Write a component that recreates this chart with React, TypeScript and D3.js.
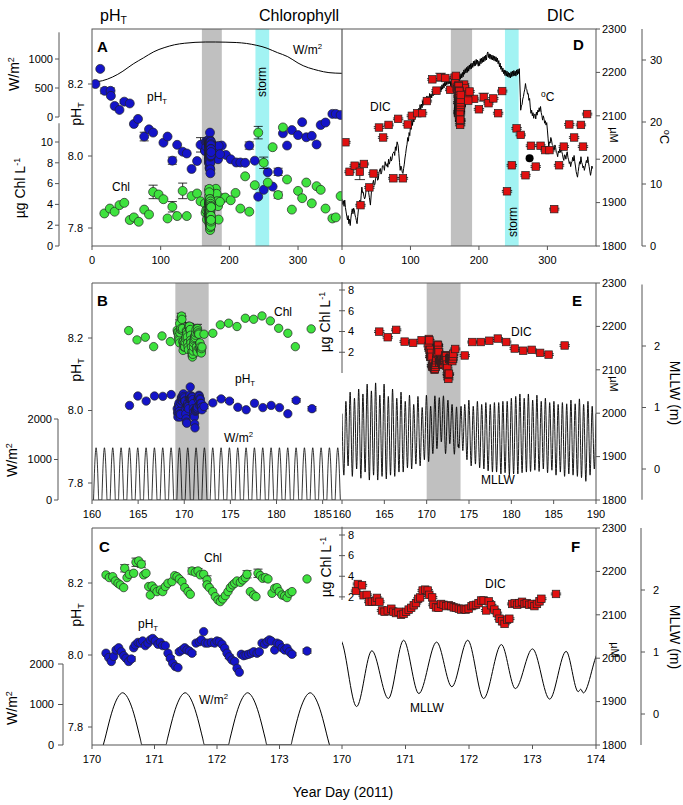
import React from 'react';
import * as d3 from 'd3';

type Pt = [number, number, number?];

const FONT = "'Liberation Sans', Arial, Helvetica, sans-serif";

// ---------------- Panel A / D : annual record ----------------
const lightAnnualDays = [0, 15, 30, 45, 60, 75, 90, 105, 120, 135, 150, 165, 180, 195, 210, 225, 240, 255, 270, 285, 300, 315, 330, 345, 364];
const lightAnnualW = [598, 625, 690, 790, 915, 1020, 1125, 1195, 1245, 1272, 1287, 1293, 1293, 1290, 1284, 1268, 1235, 1185, 1110, 1040, 930, 850, 800, 765, 753];

const phA: Pt[] = [
  [5, 8.2], [12, 8.242], [18.5, 8.181, 0.008], [27, 8.181, 0.008], [27.5, 8.167], [33, 8.139], [40, 8.128],
  [47, 8.151, 0.005], [55, 8.146], [61, 8.089], [67, 8.103], [76, 8.054, 0.012], [83, 8.074], [89, 8.065],
  [104, 8.037], [110, 8.054], [117, 7.987, 0.01], [124, 8.031], [132, 8.012], [138, 8.007], [145, 7.964],
  [153, 7.986], [158, 8.031, 0.02], [189, 8.029], [195, 8.003], [202, 7.991], [210, 7.982], [216, 7.982],
  [223, 7.981], [229, 8.029, 0.01], [237, 7.987], [242, 7.887], [250, 7.906], [256, 7.955], [263, 7.915],
  [271, 7.956, 0.01], [278, 8.063], [284, 8.029], [291, 8.072], [300, 8.058], [306, 8.094], [312, 8.052],
  [320, 8.056], [327, 8.032], [333, 8.086], [340, 8.093], [350, 8.117], [355, 8.117], [362, 8.114],
];

const chlA: Pt[] = [
  [18, 3.13], [26, 3.6], [33, 3.3], [40, 3.93], [47, 4.15], [55, 2.5], [61, 2.75], [68, 2.33], [76, 3.5],
  [83, 3.03], [89, 5.2, 0.65], [97, 4.95], [104, 4.5], [110, 2.65], [117, 3.77, 0.5], [124, 2.88],
  [132, 5.3, 0.75], [138, 2.88], [145, 4.8], [153, 5.05], [158, 4.3], [190, 4.6], [194, 4.66], [202, 4.4],
  [209, 5.1], [216, 3.6], [223, 6.7], [229, 3.3], [237, 5.85], [242, 10.9, 0.6], [250, 8.0, 0.55],
  [256, 6.1], [263, 9.5], [271, 4.9, 0.3], [278, 11.4], [284, 6.4], [291, 3.5], [300, 5.3], [306, 4.6],
  [312, 6.1], [320, 4.1], [327, 5.75], [333, 5.4], [340, 3.6], [350, 2.65], [355, 2.75], [362, 4.8],
];

const dicD: Pt[] = [
  [5, 2039], [11, 1971], [18.5, 1985], [26, 1971, 18], [32, 1989], [27, 1894], [40, 1935], [46, 1967],
  [54, 2073], [60, 2050], [68, 2079], [75, 1956], [82, 2093], [89, 1956], [96, 2080], [102, 2100],
  [110, 2106], [117, 2106], [124, 2134], [132, 2184], [138, 2158], [144, 2189, 9], [151, 2187], [158, 2160],
  [193, 2139], [200, 2115], [207, 2143, 9], [214, 2129], [221, 2140], [228, 2106], [234, 2157], [241, 1926],
  [248, 1986], [255, 2071], [261, 2056], [268, 1963], [276, 2031], [283, 1983], [290, 2031], [297, 2021],
  [303, 2021], [310, 1885], [317, 1986], [324, 2029], [332, 2080], [339, 2050], [349, 2079], [352, 2029],
  [358, 2104],
];
const dicBlack: Pt[] = [[274, 2002]];

const tempD: Pt[] = [
  [0, 7.6], [1, 6.7], [2, 7.3], [3, 6.4], [4, 7.4], [5, 6.2], [6, 5.5], [7, 4.8], [8, 4.2], [9, 4.9], [10, 3.6],
  [11, 4.3], [12, 3.3], [13, 4.5], [14, 5.4], [15, 6.0], [16, 5.2], [17, 6.1], [18, 5.8], [19, 5.0], [20, 4.6],
  [21, 4.1], [22, 3.6], [23, 4.8], [24, 5.9], [25, 6.5], [26, 7.4], [27, 6.6], [28, 8.2], [29, 9.5], [30, 8.6],
  [31, 8.7], [32, 8.0], [33, 7.6], [34, 7.9], [35, 8.8], [36, 9.0], [37.5, 9.8], [39, 8.6], [40, 7.8], [41.5, 6.6],
  [43, 8.8], [44, 9.6], [45, 10.1], [46, 10.6], [47, 9.8], [48, 9.9], [49, 10.9], [50, 11.2], [51, 11.4],
  [52, 10.6], [53, 10.8], [54, 11.8], [55, 12.3], [56, 12.5], [57, 11.6], [58, 11.9], [59, 12.9], [60, 13.0],
  [61, 12.8], [62, 12.2], [63, 13.6], [64, 13.0], [65, 12.9], [66, 13.3], [67, 12.7], [68, 14.0], [69, 13.2],
  [70, 13.6], [71, 14.4], [72, 13.7], [73, 14.0], [74, 14.9], [75, 15.0], [76, 15.2], [77, 14.6], [78, 16.0],
  [79, 15.4], [80.5, 16.8], [82, 16.2], [83, 14.9], [84, 13.5], [85, 12.2], [86, 12.9], [87, 12.6], [88, 11.9],
  [89, 11.7], [90, 12.5], [91, 13.2], [92, 14.2], [93, 14.9], [94, 15.8],
  [95, 16.4], [96, 17.5], [97, 16.9], [98, 18.3], [99, 17.8], [100, 19.4], [101, 18.8], [102, 20.3], [103, 19.5],
  [104, 20.6], [105, 20.0], [106, 21.3], [107, 20.7], [108, 21.6], [109, 20.9], [110, 22.0], [111, 21.3],
  [112, 22.2], [113, 21.6], [114, 22.8], [115, 22.0], [116, 22.9], [117, 22.3], [118, 23.4], [119, 22.7],
  [120, 23.6], [121, 22.9], [122, 23.9], [123, 23.2], [124, 24.2], [125, 23.4], [126, 24.1], [127, 23.5],
  [128, 24.6], [129, 23.8], [130, 24.5], [131, 23.9], [132, 24.8], [133, 24.2], [134, 25.1], [135, 24.4],
  [136, 25.0], [137, 24.5], [138, 25.5], [139, 24.8], [140, 25.4], [141, 24.5], [142, 25.6], [143, 25.0],
  [144, 25.7], [145, 25.1], [146, 26.0], [147, 25.3], [148, 26.2], [149, 25.5], [150, 26.4], [151, 25.8],
  [152, 26.7], [153, 26.0], [154, 26.8], [155, 26.1], [156, 26.9], [157, 26.2], [158, 26.6], [159, 25.7],
  [160, 26.3], [161, 25.6], [162, 26.5], [163, 25.8], [164, 26.6], [165, 25.9], [166, 26.8], [167, 26.1],
  [168, 27.0], [169, 26.3], [170, 27.2], [171, 26.5], [172, 27.5], [173, 26.9], [174, 27.8], [175, 27.1],
  [176, 28.0], [177, 27.3], [178, 28.4], [179, 27.7], [180, 28.6], [181, 27.9], [182, 28.8], [183, 28.0],
  [184, 29.0], [185, 28.2], [186, 29.2], [187, 28.5], [188, 29.4], [189, 28.6], [190, 29.5], [191, 28.8],
  [192, 29.8], [193, 29.0], [194, 29.9], [195, 29.1], [196, 30.1], [197, 29.3], [198, 30.0], [199, 29.0],
  [200, 29.8], [201, 29.1], [202, 30.2], [203, 29.4], [204, 30.3], [205, 29.6], [206, 30.5], [207, 29.7],
  [208, 30.6], [209, 29.9], [210, 30.8], [211, 30.0], [212, 31.0], [213, 31.3], [214, 30.4], [215, 31.0],
  [216, 30.2], [217, 30.9], [218, 30.1], [219, 30.8], [220, 30.0], [221, 30.7], [222, 29.9], [223, 30.6],
  [224, 29.8], [225, 30.5], [226, 29.7], [227, 30.3], [228, 29.4], [229, 29.9], [230, 28.9], [231, 29.5],
  [232, 28.5], [233, 29.0], [234, 28.1], [235, 28.7], [236, 27.8], [237, 28.4], [238, 27.5], [239, 28.3],
  [240, 27.4], [241, 28.2], [242, 27.3], [243, 28.0], [244, 27.2], [245, 27.9], [246, 27.1], [247, 28.1],
  [248, 27.3], [249, 28.2], [250, 27.4], [251, 28.3], [252, 27.5], [253, 28.2], [254, 27.4], [255, 28.4],
  [256, 27.6], [257, 28.5], [258, 27.8], [259, 28.6],
  [260.5, 24.0], [261, 21.9], [262, 22.6], [263, 22.8], [264, 23.7], [265, 24.1], [266, 24.8], [267, 25.3],
  [268, 26.2], [269, 25.4], [270, 25.2], [271, 24.5], [272, 24.6], [273, 23.5], [274, 23.8], [275, 22.4],
  [276, 21.4], [277, 21.9], [278, 21.0], [279, 21.5], [280, 20.6], [281, 21.2], [282, 21.3], [283, 20.5],
  [284, 21.6], [285, 21.1], [286, 21.9], [287, 21.6], [288, 22.3], [289, 21.7], [290, 22.5], [291, 21.5],
  [292, 21.0], [293, 20.3], [294, 21.0], [295, 20.6], [296, 19.8], [297, 20.2], [298, 19.5], [299, 19.9],
  [300, 18.7], [301, 17.4], [302, 16.0], [303, 16.8], [304, 16.6], [305, 17.5], [306, 17.1], [307, 16.4],
  [308, 16.2], [309, 15.6], [310, 15.5], [311, 16.3], [312, 15.9], [313, 15.1], [314, 14.9], [315, 14.4],
  [316, 15.3], [317, 15.0], [318, 15.7], [319, 15.1], [320, 16.0], [321, 15.2], [322, 14.8], [323, 14.2],
  [324, 13.8], [325, 14.7], [326, 14.6], [327, 14.0], [328, 14.9], [329, 15.2], [330, 14.3], [331, 13.9],
  [332, 13.3], [333, 13.6], [334, 12.8], [335, 13.4], [336, 13.6], [337, 14.3], [338, 13.7], [339, 14.6],
  [340, 13.6], [341, 12.9], [342, 12.0], [343, 11.5], [344, 11.1], [345, 12.0], [346, 12.8], [347, 13.6],
  [348, 13.2], [349, 14.4], [350, 13.5], [351, 13.2], [352, 12.6], [353, 12.9], [354, 12.2], [355, 12.7],
  [356, 13.3], [357, 13.8], [358, 13.4], [359, 14.4], [360, 13.5], [361, 12.8], [362, 12.1], [363, 11.4],
  [364, 12.0], [365, 12.9], [366, 12.5],
];

// ---------------- Panel B / E : month around the event ----------------
const phB: Pt[] = [
  [164.5, 8.014], [165.5, 8.04], [166.5, 8.026], [167.5, 8.04], [168.5, 8.039], [169.5, 8.044],
  [174.5, 8.021], [175.5, 8.032, 0.004], [176.5, 8.026, 0.004], [177.5, 8.009], [178.5, 8.002], [179.5, 8.02],
  [180.5, 8.008], [181.5, 8.014], [182.5, 8.008], [183.5, 7.991], [184.5, 8.028, 0.005], [186.4, 8.005, 0.006],
];
const chlB: Pt[] = [
  [164.4, 4.09], [165.4, 3.19], [166.4, 3.45], [167.4, 2.54], [168.4, 3.57], [169.4, 3.03], [174.5, 3.83],
  [175.4, 4.64], [176.4, 4.8], [177.4, 4.48], [178.4, 5.28], [179.4, 5.18], [180.4, 5.5], [181.4, 5.02],
  [182.4, 4.31], [183.5, 3.83], [184.4, 2.54], [186.3, 4.25],
];
const dicE: Pt[] = [
  [164.4, 2188], [165.4, 2175], [166.4, 2192], [167.4, 2165], [168.4, 2162], [169.4, 2168], [174.5, 2133],
  [175.4, 2164], [176.4, 2164], [177.4, 2167], [178.4, 2172], [179.4, 2164], [180.4, 2149], [181.4, 2144],
  [182.4, 2146], [183.4, 2139], [184.4, 2135], [186.3, 2156],
];

// daily irradiance: one hump per day (start day) with its hourly shape
const lightDays = [160, 161, 162, 163, 164, 165, 166, 167, 168, 169, 170, 171, 172, 173, 174, 175, 176, 177, 178, 179, 180, 181, 182, 183, 184, 185, 186, 187, 188, 189];
const lightDayFraction = [0.18, 0.21, 0.25, 0.29, 0.33, 0.37, 0.41, 0.45, 0.49, 0.53, 0.57, 0.61, 0.65, 0.69, 0.73, 0.77, 0.8];
const lightDayW = [0, 170, 420, 660, 870, 1040, 1170, 1255, 1290, 1255, 1170, 1040, 870, 660, 420, 170, 0];

// tide (m above MLLW): turning points
const tide: Pt[] = [
  [160.0, 0.9], [160.22, -0.1], [160.46, 1.1], [160.72, 0.05], [160.96, 1.25],
  [161.22, -0.12], [161.47, 1.15], [161.73, 0.0], [161.97, 1.3],
  [162.23, -0.15], [162.47, 1.22], [162.73, -0.05], [162.97, 1.38],
  [163.23, -0.18], [163.47, 1.27], [163.73, -0.1], [163.97, 1.4],
  [164.22, -0.18], [164.47, 1.2], [164.73, -0.12], [164.97, 1.38],
  [165.23, -0.16], [165.47, 1.18], [165.73, -0.1], [165.97, 1.3],
  [166.23, -0.12], [166.47, 1.15], [166.73, -0.05], [166.97, 1.25],
  [167.23, -0.05], [167.47, 1.1], [167.73, 0.02], [167.97, 1.2],
  [168.23, 0.0], [168.47, 1.05], [168.73, 0.08], [168.97, 1.18],
  [169.23, 0.05], [169.47, 1.0], [169.73, 0.15], [169.97, 1.2],
  [170.23, 0.12], [170.47, 1.02], [170.73, 0.25], [170.97, 1.19], [171.21, 0.33], [171.49, 1.16],
  [171.73, 0.44], [171.98, 1.19], [172.23, 0.25], [172.51, 1.12], [172.73, 0.41], [173.0, 1.05],
  [173.27, 0.24], [173.53, 1.01], [173.72, 0.36], [173.76, 0.4], [173.8, 0.34], [174.06, 1.02],
  [174.27, 0.3], [174.5, 1.05], [174.76, 0.15], [174.98, 1.12],
  [175.26, 0.05], [175.5, 1.02], [175.76, 0.08], [175.99, 1.1],
  [176.26, 0.02], [176.5, 1.05], [176.76, 0.0], [176.99, 1.08],
  [177.26, -0.03], [177.51, 1.05], [177.77, -0.05], [178.0, 1.08],
  [178.26, -0.05], [178.51, 1.08], [178.77, -0.08], [179.0, 1.1],
  [179.26, -0.06], [179.51, 1.1], [179.77, -0.1], [180.0, 1.15],
  [180.27, -0.08], [180.52, 1.18], [180.77, -0.08], [181.01, 1.22],
  [181.27, -0.06], [181.52, 1.15], [181.78, -0.05], [182.01, 1.22],
  [182.27, -0.04], [182.52, 1.12], [182.78, -0.02], [183.02, 1.2],
  [183.28, -0.04], [183.53, 1.1], [183.78, 0.0], [184.02, 1.15],
  [184.28, -0.06], [184.53, 1.08], [184.79, -0.02], [185.03, 1.1],
  [185.28, -0.1], [185.53, 1.05], [185.79, -0.05], [186.03, 1.08],
  [186.29, -0.12], [186.54, 1.06], [186.79, -0.08], [187.04, 1.12],
  [187.29, -0.1], [187.54, 1.06], [187.8, -0.12], [188.04, 1.14],
  [188.29, -0.14], [188.54, 1.05], [188.8, -0.2], [189.05, 1.1],
  [189.3, -0.1], [189.55, 1.02], [189.8, 0.0], [190.0, 0.9],
];

// ---------------- Panel C / F : high-frequency sampling ----------------
const phC: Pt[] = [
  [170.224, 8.005], [170.267, 7.993], [170.309, 7.982], [170.347, 7.996], [170.384, 8.014], [170.427, 8.02],
  [170.469, 8.009], [170.507, 7.998], [170.544, 7.991], [170.587, 7.982], [170.629, 7.989, 0.006], [170.667, 8.02],
  [170.693, 8.028], [170.736, 8.035], [170.773, 8.033], [170.811, 8.039], [170.853, 8.026], [170.896, 8.033],
  [170.933, 8.042], [170.971, 8.046], [171.013, 8.039], [171.056, 8.03], [171.093, 8.035], [171.131, 8.026],
  [171.173, 8.026], [171.216, 8.005], [171.253, 7.991, 0.005], [171.291, 7.977], [171.333, 7.968], [171.376, 7.965],
  [171.397, 8.009, 0.004], [171.44, 8.014], [171.483, 8.02], [171.52, 8.014], [171.557, 8.011], [171.6, 8.005, 0.004],
  [171.664, 8.033], [171.717, 8.037], [171.749, 8.042], [171.787, 8.065], [171.813, 8.033], [171.856, 8.033],
  [171.909, 8.035], [171.963, 8.033], [172.0, 8.039], [172.037, 8.037], [172.08, 8.03], [172.123, 8.019],
  [172.16, 8.005], [172.197, 7.995, 0.005], [172.24, 7.986], [172.283, 7.982], [172.32, 7.963], [172.357, 7.952],
  [172.389, 8.002], [172.427, 7.998], [172.464, 8.0], [172.507, 8.002], [172.549, 8.005], [172.587, 8.009],
  [172.64, 8.005], [172.677, 8.009], [172.72, 8.033], [172.763, 8.03], [172.8, 8.037], [172.837, 8.042],
  [172.869, 8.039], [172.923, 8.014], [172.96, 8.033], [172.997, 8.03], [173.04, 8.02], [173.083, 8.014],
  [173.12, 8.019], [173.157, 8.009], [173.2, 8.002, 0.004], [173.44, 8.011, 0.006],
];
const chlC: Pt[] = [
  [170.224, 4.13], [170.277, 3.87], [170.331, 3.96], [170.373, 3.54], [170.416, 3.32], [170.453, 3.16],
  [170.507, 2.9], [170.523, 4.77, 0.35], [170.56, 3.87], [170.597, 4.19], [170.667, 4.29], [170.704, 5.36, 0.4],
  [170.747, 5.49], [170.789, 5.17, 0.3], [170.827, 4.13], [170.864, 4.29], [170.907, 3.0], [170.933, 2.18],
  [170.96, 3.06], [171.003, 2.77], [171.04, 2.51], [171.093, 2.67], [171.131, 2.51], [171.173, 3.0],
  [171.216, 3.32], [171.28, 3.48], [171.323, 4.06], [171.36, 3.96], [171.397, 3.74], [171.44, 3.48],
  [171.483, 2.9], [171.536, 2.51], [171.573, 2.25], [171.6, 4.51, 0.3], [171.653, 4.39], [171.696, 4.51, 0.25],
  [171.733, 4.13], [171.787, 4.19], [171.84, 3.64, 0.4], [171.84, 3.16], [171.877, 2.9], [171.931, 2.51],
  [171.973, 2.02], [172.016, 1.7], [172.053, 1.54], [172.091, 1.8], [172.133, 2.12], [172.176, 2.51],
  [172.213, 2.9], [172.251, 3.16], [172.283, 3.32], [172.32, 3.54], [172.373, 3.41], [172.411, 3.64],
  [172.453, 3.87], [172.48, 4.19, 0.35], [172.533, 2.51], [172.587, 2.18], [172.624, 2.02], [172.656, 4.29, 0.4],
  [172.693, 4.06], [172.731, 3.8], [172.773, 3.87], [172.816, 3.74], [172.88, 2.35], [172.923, 2.83],
  [172.96, 2.9], [172.997, 2.51], [173.04, 2.18], [173.083, 2.09], [173.12, 1.93], [173.157, 2.35],
  [173.2, 2.51], [173.44, 3.74],
];
const dicF: Pt[] = [
  [170.22, 2155], [170.25, 2171], [170.315, 2168], [170.34, 2145], [170.39, 2146], [170.43, 2130], [170.47, 2130],
  [170.525, 2131], [170.55, 2139], [170.59, 2130], [170.63, 2110], [170.67, 2107], [170.72, 2110], [170.777, 2114],
  [170.81, 2107], [170.85, 2104], [170.89, 2107], [170.93, 2100], [170.97, 2102], [171.01, 2107], [171.05, 2112],
  [171.09, 2116], [171.13, 2122], [171.165, 2127], [171.2, 2137], [171.23, 2140], [171.27, 2156], [171.31, 2158],
  [171.35, 2156], [171.375, 2146], [171.42, 2140], [171.44, 2123], [171.48, 2117], [171.52, 2116], [171.56, 2125],
  [171.6, 2123], [171.64, 2120], [171.68, 2122], [171.72, 2120], [171.76, 2117], [171.795, 2116], [171.84, 2114],
  [171.88, 2112], [171.92, 2114], [171.95, 2112], [171.995, 2114], [172.04, 2120], [172.07, 2122], [172.11, 2123],
  [172.15, 2127], [172.19, 2133], [172.23, 2133], [172.27, 2110], [172.31, 2131], [172.35, 2122], [172.4, 2112],
  [172.44, 2104], [172.48, 2091], [172.52, 2085], [172.56, 2079], [172.6, 2089], [172.635, 2091], [172.68, 2125],
  [172.72, 2127], [172.76, 2123], [172.79, 2127], [172.835, 2130], [172.875, 2125], [172.91, 2127], [172.95, 2123],
  [172.99, 2125], [173.03, 2120], [173.07, 2125], [173.11, 2131], [173.14, 2137], [173.37, 2148],
];

// ---------------- ticks ----------------
const xTicksAD = [0, 100, 200, 300];
const xTicksB = [160, 165, 170, 175, 180, 185];
const xTicksE = [160, 165, 170, 175, 180, 185, 190];
const xTicksC = [170, 171, 172, 173];
const xTicksF = [170, 171, 172, 173, 174];
const phTicks = [7.8, 8.0, 8.2];
const wTicksA = [0, 500, 1000];
const wTicksBC = [0, 1000, 2000];
const chlTicksA = [0, 2, 4, 6, 8, 10];
const chlTicksBC = [2, 4, 6, 8];
const dicTicks = [1800, 1900, 2000, 2100, 2200, 2300];
const tempTicks = [0, 10, 20, 30];
const tideTicks = [0, 1, 2];

// ---------------- styling ----------------
const BLUE = '#1414c8';
const GREEN = '#3ee23e';
const RED = '#e01010';
const GREY = '#c0c0c0';
const CYAN = '#a2f3f3';
const FRAME = '#555';
const L = 92, M = 342, R = 596;

type Sc = d3.ScaleLinear<number, number>;

function ErrorBars({ data, x, y, cap = 4.5, def = 0 }: { data: Pt[]; x: Sc; y: Sc; cap?: number; def?: number }) {
  return (
    <g stroke="#000" strokeWidth={0.8}>
      {data.map((d, i) => {
        const e = d[2] ?? def;
        if (!e) return null;
        const cx = x(d[0]);
        const a = y(d[1] + e), b = y(d[1] - e);
        return (
          <g key={i}>
            <line x1={cx} x2={cx} y1={a} y2={b} />
            <line x1={cx - cap} x2={cx + cap} y1={a} y2={a} />
            <line x1={cx - cap} x2={cx + cap} y1={b} y2={b} />
          </g>
        );
      })}
    </g>
  );
}

function Dots({ data, x, y, r, fill }: { data: Pt[]; x: Sc; y: Sc; r: number; fill: string }) {
  return (
    <g>
      <ErrorBars data={data} x={x} y={y} />
      {data.map((d, i) => (
        <circle key={i} cx={x(d[0])} cy={y(d[1])} r={r} fill={fill} stroke="#222" strokeWidth={0.7} />
      ))}
    </g>
  );
}

function Squares({ data, x, y, s, fill, def }: { data: Pt[]; x: Sc; y: Sc; s: number; fill: string; def: number }) {
  return (
    <g>
      <ErrorBars data={data} x={x} y={y} cap={5.2} def={def} />
      {data.map((d, i) => (
        <rect key={i} x={x(d[0]) - s / 2} y={y(d[1]) - s / 2} width={s} height={s} fill={fill} stroke="#222" strokeWidth={0.7} />
      ))}
    </g>
  );
}

function LeftAxis({ scale, ticks, x, from, to, fmt, tick = 4, line = true, gap = 2 }: any) {
  return (
    <g>
      {line && <line x1={x} x2={x} y1={scale(from)} y2={scale(to)} stroke={FRAME} strokeWidth={1} />}
      {ticks.map((t: number) => (
        <g key={t}>
          <line x1={x - tick} x2={x} y1={scale(t)} y2={scale(t)} stroke={FRAME} strokeWidth={1} />
          <text x={x - tick - gap} y={scale(t)} dy="0.35em" textAnchor="end" fontSize={11}>{fmt(t)}</text>
        </g>
      ))}
    </g>
  );
}

function RightAxis({ scale, ticks, x, from, to, fmt, tick = 4, line = true, gap = 3, cross = false }: any) {
  return (
    <g>
      {line && <line x1={x} x2={x} y1={scale(from)} y2={scale(to)} stroke={FRAME} strokeWidth={1} />}
      {ticks.map((t: number) => (
        <g key={t}>
          <line x1={cross ? x - tick : x} x2={x + tick} y1={scale(t)} y2={scale(t)} stroke={FRAME} strokeWidth={1} />
          <text x={x + tick + gap} y={scale(t)} dy="0.35em" textAnchor="start" fontSize={11}>{fmt(t)}</text>
        </g>
      ))}
    </g>
  );
}

function BottomAxis({ scale, ticks, y }: any) {
  return (
    <g>
      {ticks.map((t: number) => (
        <g key={t}>
          <line x1={scale(t)} x2={scale(t)} y1={y} y2={y + 4} stroke={FRAME} strokeWidth={1} />
          <text x={scale(t)} y={y + 18} textAnchor="middle" fontSize={11}>{t}</text>
        </g>
      ))}
    </g>
  );
}

const Sup = ({ t }: { t: string }) => <tspan dy={-5} fontSize="0.65em">{t}</tspan>;
const Sub = ({ t }: { t: string }) => <tspan dy={3} fontSize="0.65em">{t}</tspan>;

function VText({ x, y, rot = -90, size = 14, children }: any) {
  return (
    <text transform={`translate(${x},${y}) rotate(${rot})`} textAnchor="middle" fontSize={size}>{children}</text>
  );
}

export default function App() {
  const fmtPh = d3.format('.1f');
  const fmtI = (v: number) => String(v);

  // Panel A / D scales
  const xA = d3.scaleLinear().domain([0, 364]).range([L, M]);
  const yPhA = d3.scaleLinear().domain([7.8, 8.2]).range([228, 84]);
  const yWA = d3.scaleLinear().domain([0, 1000]).range([117, 59]);
  const yChlA = d3.scaleLinear().domain([0, 10]).range([246, 142]);
  const xD = d3.scaleLinear().domain([0, 371]).range([M, R]);
  const yDicD = d3.scaleLinear().domain([1800, 2300]).range([246, 29]);
  const yTD = d3.scaleLinear().domain([0, 30]).range([246, 60]);

  // Panel B / E
  const xB = d3.scaleLinear().domain([160, 190]).range([L, M]);
  const xBt = d3.scaleLinear().domain([160, 187.1]).range([L, M]);
  const yPhB = d3.scaleLinear().domain([7.8, 8.2]).range([483, 338]);
  const yWB = d3.scaleLinear().domain([0, 2000]).range([500, 419]);
  const yChlB = d3.scaleLinear().domain([0, 8]).range([373, 290]);
  const xE = d3.scaleLinear().domain([160, 190]).range([M, R]);
  const yDicE = d3.scaleLinear().domain([1800, 2300]).range([500, 283]);
  const yTideE = d3.scaleLinear().domain([0, 2]).range([469, 346]);

  // Panel C / F
  const xC = d3.scaleLinear().domain([170, 174]).range([L, M]);
  const yPhC = d3.scaleLinear().domain([7.8, 8.2]).range([727, 583]);
  const yWC = d3.scaleLinear().domain([0, 2000]).range([745, 664]);
  const yChlC = d3.scaleLinear().domain([0, 8]).range([617.5, 535]);
  const xF = d3.scaleLinear().domain([170, 174]).range([M, R]);
  const yDicF = d3.scaleLinear().domain([1800, 2300]).range([745, 528]);
  const yTideF = d3.scaleLinear().domain([0, 2]).range([714, 590]);

  const annual: Pt[] = lightAnnualDays.map((d, i) => [d, lightAnnualW[i]]);
  const humps: Pt[] = lightDays.flatMap((d) => lightDayFraction.map((f, i) => [d + f, lightDayW[i]] as Pt));
  const humpsC = humps.filter((p) => p[0] >= 169.9 && p[0] <= 174.1);

  const lineOf = (x: Sc, y: Sc, curve: any = d3.curveLinear) =>
    d3.line<Pt>().x((d) => x(d[0])).y((d) => y(d[1])).curve(curve);

  const phAll = [...phA, ...phB, ...phC];
  const chlAll = [...chlA, ...chlB, ...chlC];
  const dicAll = [...dicD, ...dicE, ...dicF];

  const band = (x: Sc, a: number, b: number, top: number, h: number, color: string) => (
    <rect x={x(a)} y={top} width={x(b) - x(a)} height={h} fill={color} />
  );

  return (
    <svg width={683} height={805} style={{ position: 'absolute', left: 0, top: 0, background: '#fff' }} fontFamily={FONT}>
      <defs>
        <clipPath id="cA"><rect x={L} y={29} width={M - L} height={217} /></clipPath>
        <clipPath id="cD"><rect x={M} y={29} width={R - M} height={217} /></clipPath>
        <clipPath id="cB"><rect x={L} y={283} width={M - L} height={217} /></clipPath>
        <clipPath id="cE"><rect x={M} y={283} width={R - M} height={217} /></clipPath>
        <clipPath id="cC"><rect x={L} y={528} width={M - L} height={217} /></clipPath>
        <clipPath id="cF"><rect x={M} y={528} width={R - M} height={217} /></clipPath>
      </defs>
      <rect x={0} y={0} width={683} height={805} fill="#fff" />

      {/* column titles */}
      <text x={100} y={21} fontSize={16}>pH<Sub t="T" /></text>
      <text x={259} y={21} fontSize={16}>Chlorophyll</text>
      <text x={547} y={21} fontSize={16}>DIC</text>

      {/* ================= Panel A ================= */}
      <g clipPath="url(#cA)">
        {band(xA, 160, 189, 29, 217, GREY)}
        {band(xA, 238, 258, 29, 217, CYAN)}
        <path d={lineOf(xA, yWA, d3.curveNatural)(annual) || ''} fill="none" stroke="#000" strokeWidth={1} />
        <Dots data={phAll} x={xA} y={yPhA} r={4.5} fill={BLUE} />
        <Dots data={chlAll} x={xA} y={yChlA} r={4.5} fill={GREEN} />
      </g>
      <text x={97} y={52} fontSize={15} fontWeight="bold">A</text>
      <text x={293} y={54} fontSize={12}>W/m<Sup t="2" /></text>
      <text x={147} y={101} fontSize={12}>pH<Sub t="T" /></text>
      <text x={112} y={191} fontSize={12}>Chl</text>
      <VText x={266} y={82} size={12}>storm</VText>
      <LeftAxis scale={yPhA} ticks={phTicks} x={L} line={false} fmt={fmtPh} tick={4} gap={5} />
      <LeftAxis scale={yWA} ticks={wTicksA} x={59} from={0} to={1460} fmt={fmtI} />
      <LeftAxis scale={yChlA} ticks={chlTicksA} x={59} from={0} to={11.8} fmt={fmtI} />
      <VText x={19} y={74}>W/m<Sup t="2" /></VText>
      <VText x={25} y={188}>µg Chl L<Sup t="-1" /></VText>
      <VText x={81} y={114}>pH<Sub t="T" /></VText>
      <BottomAxis scale={xA} ticks={xTicksAD} y={246} />

      {/* ================= Panel D ================= */}
      <g clipPath="url(#cD)">
        {band(xD, 159, 190, 29, 217, GREY)}
        {band(xD, 238, 258, 29, 217, CYAN)}
        <path d={lineOf(xD, yTD)(tempD) || ''} fill="none" stroke="#000" strokeWidth={1} />
        <Squares data={dicAll} x={xD} y={yDicD} s={7.5} fill={RED} def={2} />
        {dicBlack.map((d, i) => (
          <circle key={i} cx={xD(d[0])} cy={yDicD(d[1])} r={4} fill="#000" />
        ))}
      </g>
      <text x={573} y={50} fontSize={15} fontWeight="bold">D</text>
      <text x={370} y={111} fontSize={12}>DIC</text>
      <text x={541} y={101} fontSize={12}><tspan dy={-4} fontSize="0.7em">o</tspan><tspan dy={4}>C</tspan></text>
      <VText x={517} y={222} size={12}>storm</VText>
      <BottomAxis scale={xD} ticks={xTicksAD} y={246} />
      <RightAxis scale={yDicD} ticks={dicTicks} x={R} line={false} fmt={fmtI} tick={4} gap={2} />
      <RightAxis scale={yTD} ticks={tempTicks} x={642} from={0} to={35} fmt={fmtI} tick={4} gap={4} />
      <VText x={610} y={135} rot={90} size={11}>µM</VText>
      <VText x={660} y={137} rot={90} size={13}><tspan dy={-4} fontSize="0.7em">o</tspan><tspan dy={4}>C</tspan></VText>

      {/* frames row 1 */}
      <rect x={L} y={29} width={R - L} height={217} fill="none" stroke={FRAME} strokeWidth={1} />
      <line x1={M} x2={M} y1={29} y2={246} stroke={FRAME} strokeWidth={1.2} />

      {/* ================= Panel B ================= */}
      <g clipPath="url(#cB)">
        {band(xB, 170, 174, 283, 217, GREY)}
        <path d={lineOf(xB, yWB, d3.curveMonotoneX)(humps) || ''} fill="none" stroke="#000" strokeWidth={0.8} />
        <Dots data={[...chlB, ...chlC]} x={xB} y={yChlB} r={4.2} fill={GREEN} />
        <Dots data={[...phB, ...phC]} x={xB} y={yPhB} r={4.2} fill={BLUE} />
      </g>
      <text x={97} y={306} fontSize={15} fontWeight="bold">B</text>
      <text x={274} y={316} fontSize={12}>Chl</text>
      <text x={235} y={383} fontSize={12}>pH<Sub t="T" /></text>
      <text x={224} y={442} fontSize={12}>W/m<Sup t="2" /></text>
      <LeftAxis scale={yPhB} ticks={phTicks} x={L} line={false} fmt={fmtPh} tick={4} gap={5} />
      <LeftAxis scale={yWB} ticks={wTicksBC} x={58} from={0} to={2000} fmt={fmtI} />
      <VText x={17} y={460}>W/m<Sup t="2" /></VText>
      <VText x={81} y={370}>pH<Sub t="T" /></VText>
      <VText x={330} y={322}>µg Chl L<Sup t="-1" /></VText>
      <RightAxis scale={yChlB} ticks={chlTicksBC} x={M} from={0} to={8.75} fmt={fmtI} tick={3} gap={3} cross />
      <BottomAxis scale={xBt} ticks={xTicksB} y={500} />

      {/* ================= Panel E ================= */}
      <g clipPath="url(#cE)">
        {band(xE, 170, 174, 283, 217, GREY)}
        <path d={lineOf(xE, yTideE, d3.curveMonotoneX)(tide) || ''} fill="none" stroke="#000" strokeWidth={0.9} />
        <Squares data={[...dicE, ...dicF]} x={xE} y={yDicE} s={7.5} fill={RED} def={2} />
      </g>
      <text x={572} y={306} fontSize={15} fontWeight="bold">E</text>
      <text x={511} y={336} fontSize={12}>DIC</text>
      <text x={481} y={484} fontSize={12}>MLLW</text>
      <BottomAxis scale={xE} ticks={xTicksE} y={500} />
      <RightAxis scale={yDicE} ticks={dicTicks} x={R} line={false} fmt={fmtI} tick={4} gap={2} />
      <RightAxis scale={yTideE} ticks={tideTicks} x={642} from={-0.5} to={3} fmt={fmtI} tick={4} gap={8} />
      <VText x={610} y={384} rot={90} size={11}>µM</VText>
      <VText x={670} y={393} rot={90}>MLLW (m)</VText>

      {/* frames row 2 */}
      <line x1={L} x2={R} y1={283} y2={283} stroke={FRAME} />
      <line x1={L} x2={R} y1={500} y2={500} stroke={FRAME} />
      <line x1={L} x2={L} y1={283} y2={500} stroke={FRAME} />
      <line x1={R} x2={R} y1={283} y2={500} stroke={FRAME} />

      {/* ================= Panel C ================= */}
      <g clipPath="url(#cC)">
        <path d={lineOf(xC, yWC, d3.curveMonotoneX)(humpsC) || ''} fill="none" stroke="#000" strokeWidth={1} />
        <Dots data={chlC} x={xC} y={yChlC} r={4.2} fill={GREEN} />
        <Dots data={phC} x={xC} y={yPhC} r={4.2} fill={BLUE} />
      </g>
      <text x={99} y={552} fontSize={15} fontWeight="bold">C</text>
      <text x={204} y={562} fontSize={12}>Chl</text>
      <text x={138} y={628} fontSize={12}>pH<Sub t="T" /></text>
      <text x={199} y={704} fontSize={12}>W/m<Sup t="2" /></text>
      <LeftAxis scale={yPhC} ticks={phTicks} x={L} line={false} fmt={fmtPh} tick={4} gap={5} />
      <LeftAxis scale={yWC} ticks={wTicksBC} x={63} from={0} to={2000} fmt={fmtI} tick={5} gap={4} />
      <VText x={17} y={708}>W/m<Sup t="2" /></VText>
      <VText x={81} y={615}>pH<Sub t="T" /></VText>
      <VText x={331} y={567}>µg Chl L<Sup t="-1" /></VText>
      <RightAxis scale={yChlC} ticks={chlTicksBC} x={M} from={1.7} to={8.8} fmt={fmtI} tick={3} gap={3} cross />
      <BottomAxis scale={xC} ticks={xTicksC} y={745} />

      {/* ================= Panel F ================= */}
      <g clipPath="url(#cF)">
        <path d={lineOf(xF, yTideF, d3.curveMonotoneX)(tide) || ''} fill="none" stroke="#000" strokeWidth={1} />
        <Squares data={dicF} x={xF} y={yDicF} s={7.5} fill={RED} def={2} />
      </g>
      <text x={571} y={552} fontSize={15} fontWeight="bold">F</text>
      <text x={485} y={588} fontSize={12}>DIC</text>
      <text x={410} y={712} fontSize={12}>MLLW</text>
      <BottomAxis scale={xF} ticks={xTicksF} y={745} />
      <RightAxis scale={yDicF} ticks={dicTicks} x={R} line={false} fmt={fmtI} tick={4} gap={2} />
      <RightAxis scale={yTideF} ticks={tideTicks} x={641} from={-0.5} to={3} fmt={fmtI} tick={4} gap={8} />
      <VText x={611} y={650} rot={90} size={11}>µM</VText>
      <VText x={670} y={637} rot={90}>MLLW (m)</VText>

      {/* frames row 3 */}
      <line x1={L} x2={R} y1={528} y2={528} stroke={FRAME} />
      <line x1={L} x2={R} y1={745} y2={745} stroke={FRAME} />
      <line x1={L} x2={L} y1={528} y2={745} stroke={FRAME} />
      <line x1={R} x2={R} y1={528} y2={745} stroke={FRAME} />

      <text x={343} y={797} fontSize={14} textAnchor="middle">Year Day (2011)</text>
    </svg>
  );
}
